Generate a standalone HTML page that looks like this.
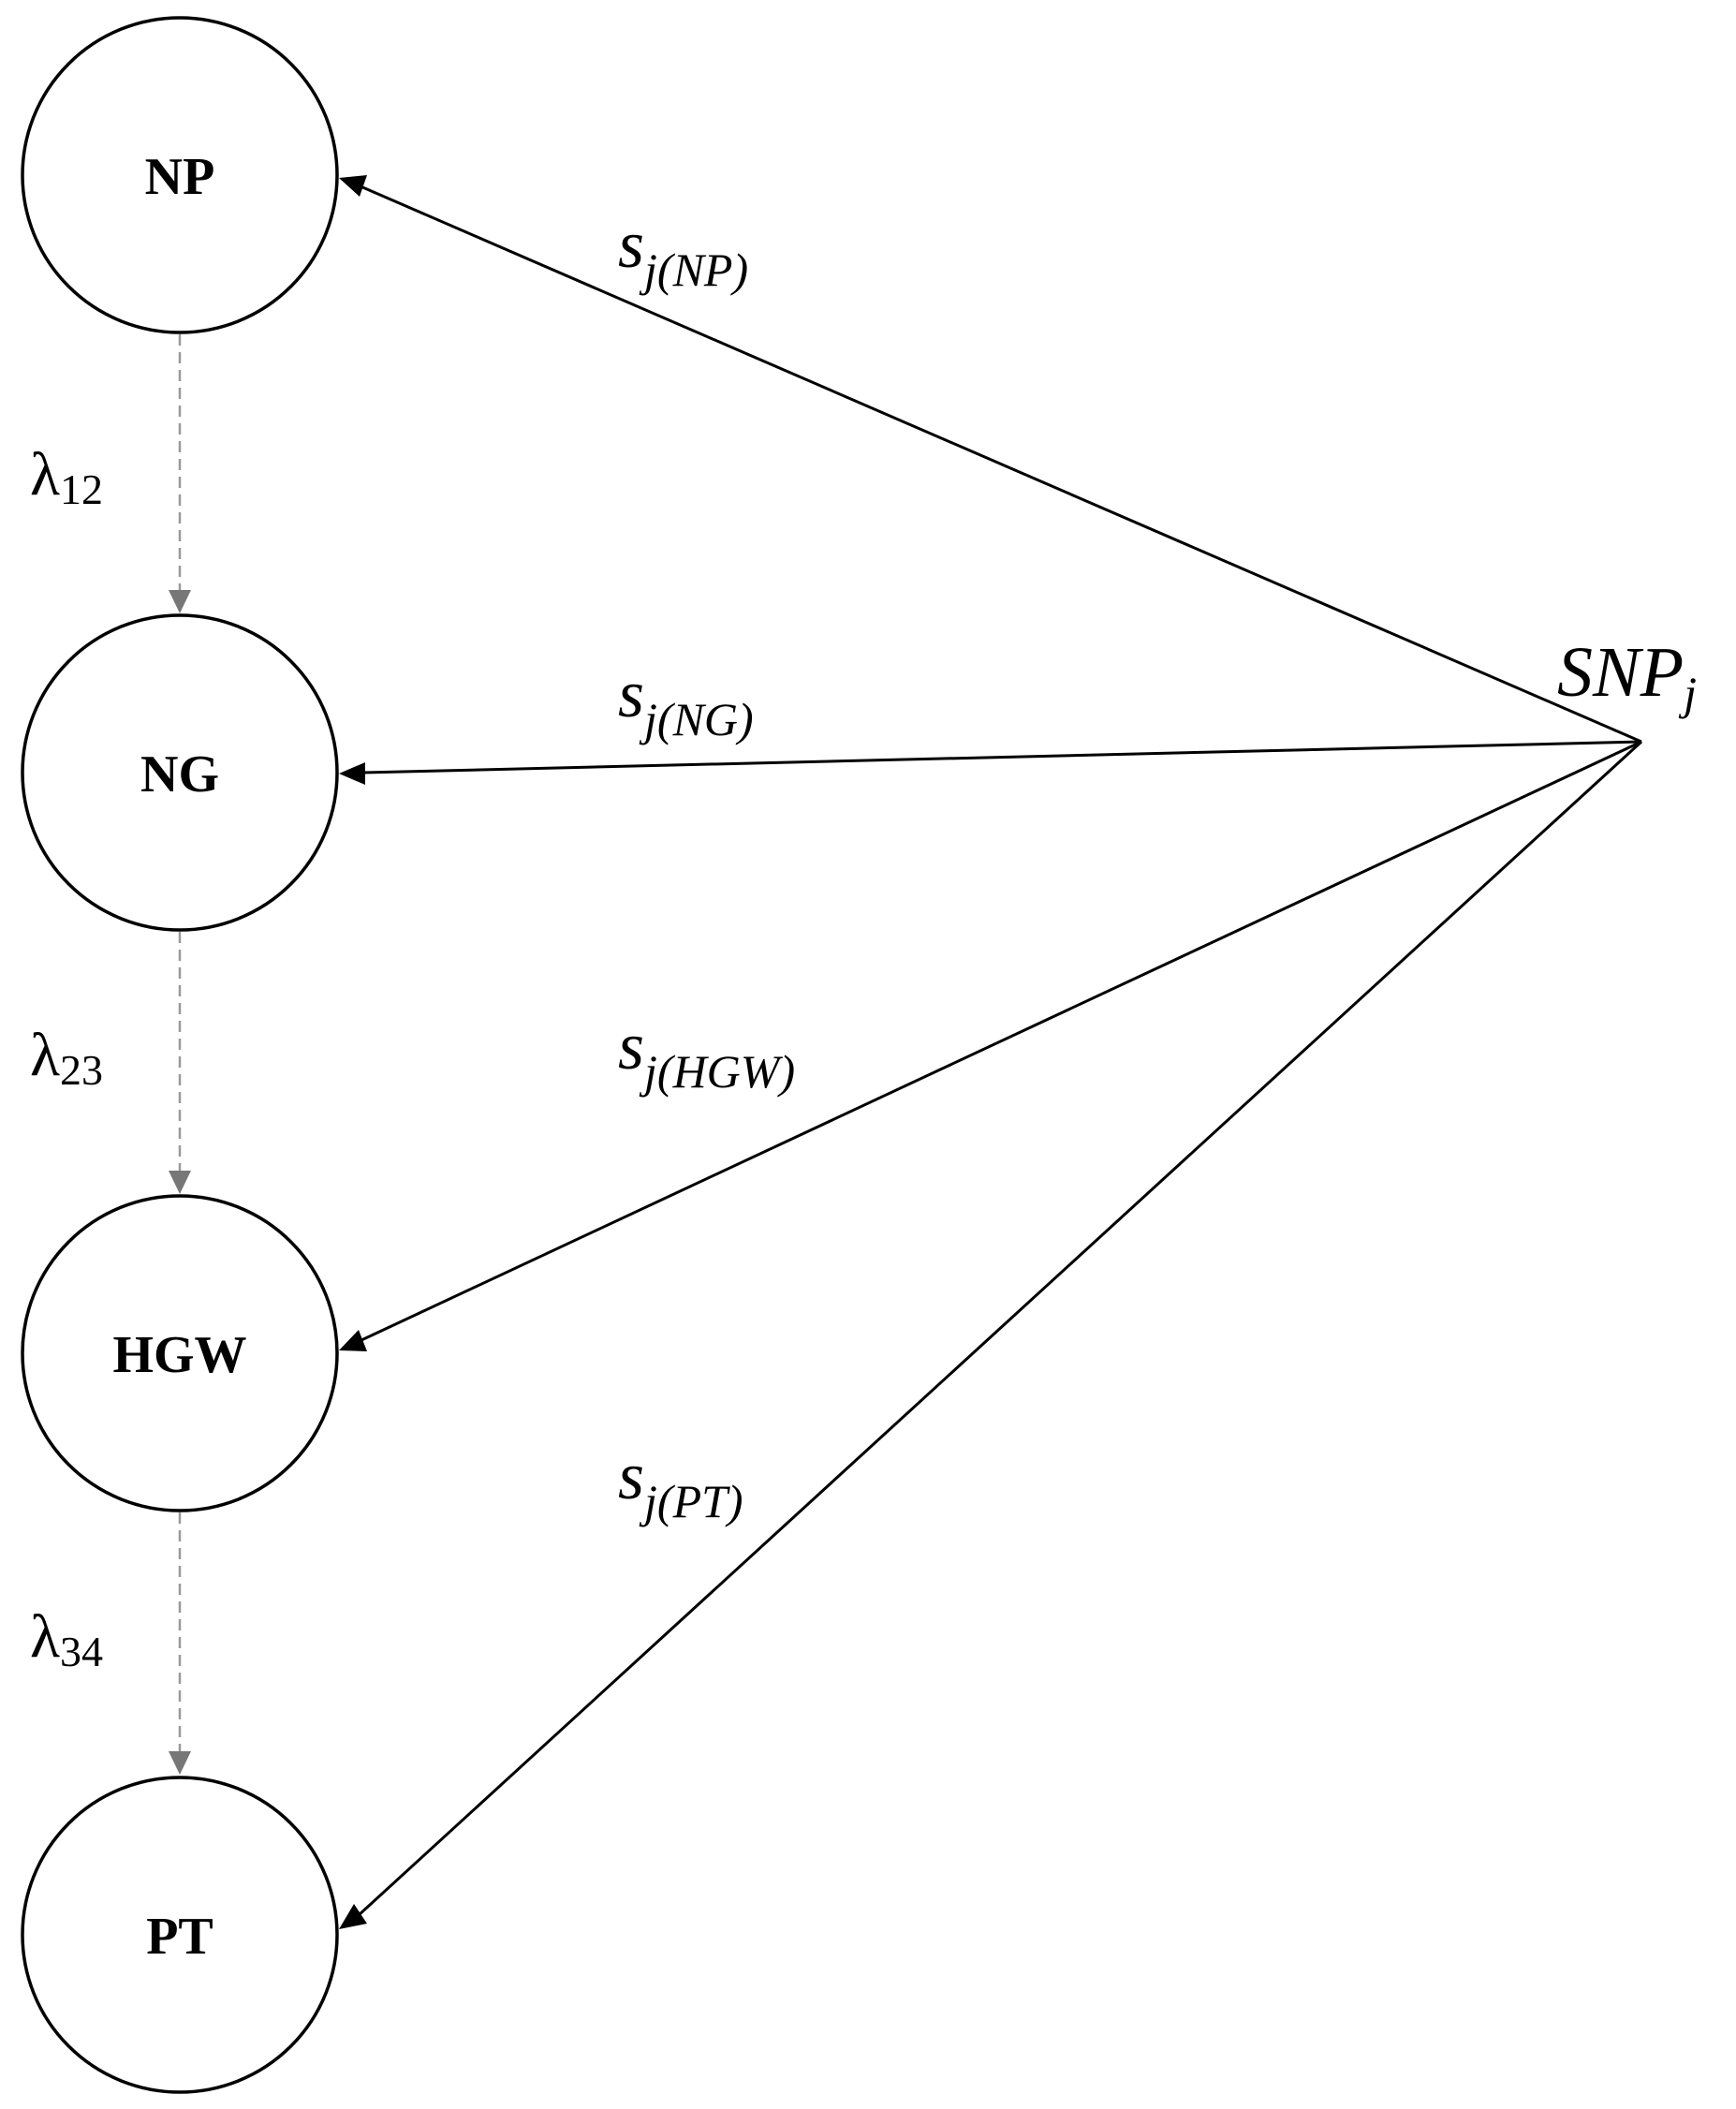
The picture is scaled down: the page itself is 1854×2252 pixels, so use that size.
<!DOCTYPE html>
<html><head><meta charset="utf-8"><style>html,body{margin:0;padding:0;background:#fff}svg{display:block}</style></head>
<body>
<svg width="1854" height="2252" viewBox="0 0 1854 2252" xmlns="http://www.w3.org/2000/svg">
<defs>
<marker id="ab" markerWidth="12" markerHeight="10" refX="11" refY="5" orient="auto" markerUnits="userSpaceOnUse" viewBox="0 0 12 10">
</marker>
</defs>
<g fill="none" stroke="#000" stroke-width="3.5">
<circle cx="192" cy="187" r="168"/>
<circle cx="192" cy="825" r="168"/>
<circle cx="192" cy="1445" r="168"/>
<circle cx="192" cy="2066" r="168"/>
</g>
<g font-family="Liberation Serif, serif" font-weight="bold" font-size="56" text-anchor="middle" fill="#000">
<text x="192" y="207">NP</text>
<text x="192" y="845">NG</text>
<text x="192" y="1465">HGW</text>
<text x="192" y="2086">PT</text>
</g>
<!-- dashed -->
<g stroke="#999" stroke-width="2.5" stroke-dasharray="12,7">
<line x1="192" y1="357" x2="192" y2="630"/>
<line x1="192" y1="995" x2="192" y2="1250"/>
<line x1="192" y1="1615" x2="192" y2="1870"/>
</g>
<g fill="#777">
<polygon points="180,630 204,630 192,655"/>
<polygon points="180,1250 204,1250 192,1275"/>
<polygon points="180,1870 204,1870 192,1895"/>
</g>
<g font-family="Liberation Serif, serif" fill="#000">
<text x="32" y="528" font-size="66">λ<tspan font-size="46" dy="10">12</tspan></text>
<text x="32" y="1148" font-size="66">λ<tspan font-size="46" dy="10">23</tspan></text>
<text x="32" y="1769" font-size="66">λ<tspan font-size="46" dy="10">34</tspan></text>
</g>
<!-- solid arrows -->
<g stroke="#000" stroke-width="3">
<line x1="1753" y1="792" x2="385" y2="199"/>
<line x1="1753" y1="792" x2="388" y2="825"/>
<line x1="1753" y1="792" x2="386" y2="1431"/>
<line x1="1753" y1="792" x2="383" y2="2045"/>
</g>
<g fill="#000">
<polygon points="362,190 392,187 384,210" />
<polygon points="362,826 390,814 390,838"/>
<polygon points="362,1442 383,1420 392,1443"/>
<polygon points="362,2060 378,2033 392,2054"/>
</g>
<g font-family="Liberation Serif, serif" font-style="italic" fill="#000">
<text x="1663" y="743" font-size="76">SNP<tspan font-size="50" dy="14">j</tspan></text>
<text x="660" y="285" font-size="72">s<tspan font-size="50" dy="20">j(NP)</tspan></text>
<text x="660" y="765" font-size="72">s<tspan font-size="50" dy="20">j(NG)</tspan></text>
<text x="660" y="1141" font-size="72">s<tspan font-size="50" dy="20">j(HGW)</tspan></text>
<text x="660" y="1600" font-size="72">s<tspan font-size="50" dy="20">j(PT)</tspan></text>
</g>
</svg>
</body></html>
